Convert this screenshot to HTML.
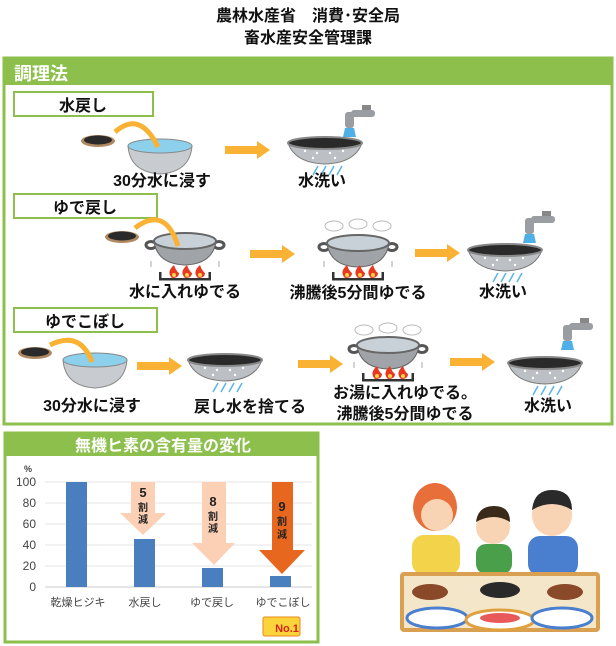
<!DOCTYPE html>
<html><head><meta charset="utf-8"><style>
body{margin:0;background:#fff}
svg{display:block;font-family:"Liberation Sans","Noto Sans CJK JP",sans-serif}
.t{font-weight:bold;font-size:16px;fill:#111;text-anchor:middle}
</style></head><body>
<svg width="616" height="646" viewBox="0 0 616 646">
<defs>
<g id="plate"><ellipse cx="0" cy="0" rx="17" ry="6" fill="#b08860"/><ellipse cx="0" cy="-1" rx="14" ry="4.5" fill="#2a2a2a"/></g>
<g id="bowl"><path d="M-32 0 Q-30 26 0 28 Q30 26 32 0 Z" fill="#c8ccd0" stroke="#888" stroke-width="1"/><ellipse cx="0" cy="0" rx="32" ry="7" fill="#8cd0ec" stroke="#888"/></g>
<g id="col"><path d="M-37 0 Q-30 20 0 21 Q30 20 37 0 Z" fill="#bcc0c4" stroke="#777"/><ellipse cx="0" cy="0" rx="37" ry="6" fill="#2a2a2a" stroke="#888" stroke-width="2"/><g fill="#fff"><circle cx="-20" cy="8" r="1.2"/><circle cx="-8" cy="10" r="1.2"/><circle cx="5" cy="10" r="1.2"/><circle cx="18" cy="8" r="1.2"/><circle cx="-12" cy="15" r="1.2"/><circle cx="10" cy="15" r="1.2"/></g><g stroke="#5ab4e6" stroke-width="1.5"><line x1="-12" y1="32" x2="-7" y2="23"/><line x1="-4" y1="32" x2="1" y2="23"/><line x1="4" y1="32" x2="9" y2="23"/><line x1="12" y1="32" x2="17" y2="23"/></g></g>
<g id="fau"><rect x="-4" y="-10" width="24" height="7" rx="3" fill="#9a9ea2"/><rect x="-10" y="-8" width="9" height="16" rx="3" fill="#9a9ea2"/><rect x="7" y="-15" width="9" height="5" fill="#888"/><path d="M-10 8 L-1 8 L1 17 L-12 17 Z" fill="#4fb0e8"/></g>
<g id="pot"><ellipse cx="-34" cy="0" rx="5" ry="3.5" fill="none" stroke="#555" stroke-width="3"/><ellipse cx="34" cy="0" rx="5" ry="3.5" fill="none" stroke="#555" stroke-width="3"/><path d="M-31 -4 Q-28 19 0 20 Q28 19 31 -4 Z" fill="#a0a4a8" stroke="#666"/><ellipse cx="0" cy="-4" rx="31" ry="8" fill="#c8d0d8" stroke="#666" stroke-width="2"/></g>
<g id="bur"><path d="M-34 -2 V4 M34 -2 V4" stroke="#aaa"/><rect x="-26" y="15" width="52" height="2.5" fill="#333"/><rect x="-26" y="9" width="2.5" height="8" fill="#333"/><rect x="23.5" y="9" width="2.5" height="8" fill="#333"/><g fill="#e83820"><path d="M-13 15 Q-19 9 -11 2 Q-9 8 -6 10 Q-6 15 -13 15Z"/><path d="M0 15 Q-6 9 2 2 Q4 8 7 10 Q7 15 0 15Z"/><path d="M13 15 Q7 9 15 2 Q17 8 20 10 Q20 15 13 15Z"/></g><g fill="#ffd34a"><circle cx="-11" cy="12" r="2"/><circle cx="2" cy="12" r="2"/><circle cx="15" cy="12" r="2"/></g></g>
<g id="arr"><rect x="0" y="-4" width="34" height="8" fill="#f9b233"/><path d="M32 -9 L45 0 L32 9Z" fill="#f9b233"/></g>
<g id="steam" fill="#fff" stroke="#bbb"><ellipse cx="-24" cy="0" rx="9" ry="5"/><ellipse cx="0" cy="-2" rx="9" ry="5"/><ellipse cx="24" cy="0" rx="9" ry="5"/></g>
</defs>

<text x="308" y="21" class="t" font-size="17">農林水産省　消費･安全局</text>
<text x="308" y="43" class="t" font-size="17">畜水産安全管理課</text>

<rect x="4" y="58" width="608" height="366" fill="#fff" stroke="#8cbf4b" stroke-width="3"/>
<rect x="4" y="58" width="608" height="27" fill="#8cbf4b"/>
<text x="14" y="80" font-size="18" font-weight="bold" fill="#fff">調理法</text>

<rect x="14" y="92" width="139" height="24" fill="#fff" stroke="#8cbf4b" stroke-width="2"/>
<text x="83" y="111" class="t" font-size="18">水戻し</text>
<rect x="14" y="194" width="143" height="24" fill="#fff" stroke="#8cbf4b" stroke-width="2"/>
<text x="85" y="213" class="t" font-size="18">ゆで戻し</text>
<rect x="14" y="308" width="143" height="24" fill="#fff" stroke="#8cbf4b" stroke-width="2"/>
<text x="85" y="327" class="t" font-size="18">ゆでこぼし</text>

<!-- row1 -->
<use href="#plate" x="98" y="141"/>
<use href="#bowl" x="160" y="146"/>
<path d="M115 132 Q140 110 158 147" fill="none" stroke="#f9b233" stroke-width="5"/>
<use href="#arr" x="225" y="150"/>
<use href="#col" x="325" y="143"/>
<use href="#fau" x="355" y="120"/>
<text x="162" y="186" class="t">30分水に浸す</text>
<text x="322" y="186" class="t">水洗い</text>

<!-- row2 -->
<use href="#plate" x="122" y="237"/>
<use href="#pot" x="185" y="245"/>
<path d="M135 228 Q165 205 178 246" fill="none" stroke="#f9b233" stroke-width="5"/>
<use href="#bur" x="185" y="263"/>
<use href="#arr" x="250" y="254"/>
<use href="#steam" x="358" y="226"/>
<use href="#pot" x="358" y="247"/>
<use href="#bur" x="358" y="263"/>
<use href="#arr" x="415" y="253"/>
<use href="#col" x="505" y="250"/>
<use href="#fau" x="535" y="226"/>
<text x="185" y="297" class="t">水に入れゆでる</text>
<text x="358" y="298" class="t">沸騰後5分間ゆでる</text>
<text x="503" y="297" class="t">水洗い</text>

<!-- row3 -->
<use href="#plate" x="35" y="353"/>
<use href="#bowl" x="95" y="360"/>
<path d="M50 345 Q80 330 92 362" fill="none" stroke="#f9b233" stroke-width="5"/>
<use href="#arr" x="137" y="366"/>
<use href="#col" x="225" y="360"/>
<use href="#arr" x="298" y="364"/>
<use href="#steam" x="388" y="330"/>
<use href="#pot" x="388" y="349"/>
<use href="#bur" x="388" y="364"/>
<use href="#arr" x="450" y="362"/>
<use href="#col" x="545" y="363"/>
<use href="#fau" x="573" y="333"/>
<text x="92" y="411" class="t">30分水に浸す</text>
<text x="250" y="412" class="t">戻し水を捨てる</text>
<text x="405" y="398" class="t">お湯に入れゆでる。</text>
<text x="405" y="419" class="t">沸騰後5分間ゆでる</text>
<text x="548" y="411" class="t">水洗い</text>

<!-- chart -->
<rect x="5" y="433" width="313" height="209" fill="#fff" stroke="#8cbf4b" stroke-width="3"/>
<rect x="5" y="433" width="313" height="23" fill="#8cbf4b"/>
<text x="163" y="451" text-anchor="middle" font-size="16" font-weight="bold" fill="#fff">無機ヒ素の含有量の変化</text>
<g stroke="#e4e4e4"><line x1="45" y1="482" x2="312" y2="482"/><line x1="45" y1="503" x2="312" y2="503"/><line x1="45" y1="524" x2="312" y2="524"/><line x1="45" y1="545" x2="312" y2="545"/><line x1="45" y1="566" x2="312" y2="566"/></g>
<line x1="45" y1="587" x2="312" y2="587" stroke="#ccc"/>
<g font-size="12" fill="#444" text-anchor="end"><text x="32" y="472" font-size="9" font-weight="bold">%</text><text x="36" y="486">100</text><text x="36" y="507">80</text><text x="36" y="528">60</text><text x="36" y="549">40</text><text x="36" y="570">20</text><text x="36" y="591">0</text></g>
<g fill="#4a7fbf"><rect x="66" y="482" width="21" height="105"/><rect x="134" y="539" width="21" height="48"/><rect x="202" y="568" width="21" height="19"/><rect x="270" y="576" width="21" height="11"/></g>
<path d="M131 482 H155 V513 H166 L143 535 L120 513 H131Z" fill="#fbd0b4"/>
<path d="M202 482 H226 V543 H235 L214 565 L192 543 H202Z" fill="#fbd0b4"/>
<path d="M272 482 H293 V550 H305 L282 574 L259 550 H272Z" fill="#e8671e"/>
<g font-weight="bold" text-anchor="middle" fill="#222"><text x="143" y="497" font-size="13">5</text><text x="143" y="511" font-size="10">割</text><text x="143" y="523" font-size="10">減</text>
<text x="213" y="506" font-size="13">8</text><text x="213" y="520" font-size="10">割</text><text x="213" y="532" font-size="10">減</text>
<text x="282" y="511" font-size="13">9</text><text x="282" y="525" font-size="10">割</text><text x="282" y="538" font-size="10">減</text></g>
<g font-size="11" fill="#444" text-anchor="middle"><text x="78" y="606">乾燥ヒジキ</text><text x="145" y="606">水戻し</text><text x="212" y="606">ゆで戻し</text><text x="283" y="606">ゆでこぼし</text></g>
<rect x="263" y="617" width="37" height="19" rx="2" fill="#fbd33a" stroke="#e88a1a"/>
<text x="287" y="632" text-anchor="middle" font-size="11" font-weight="bold" fill="#d2261e">No.1</text>

<!-- family illustration -->
<g>
<ellipse cx="435" cy="507" rx="22" ry="24" fill="#e86f3a"/>
<ellipse cx="437" cy="515" rx="16" ry="16" fill="#f8d4b4"/>
<rect x="412" y="535" width="48" height="40" rx="12" fill="#f2d34a"/>
<ellipse cx="493" cy="527" rx="17" ry="17" fill="#f8d4b4"/>
<path d="M476 522 Q478 506 494 506 Q510 506 510 522 Q494 512 476 522Z" fill="#3a2a1a"/>
<rect x="476" y="544" width="36" height="30" rx="10" fill="#4aa04a"/>
<ellipse cx="552" cy="515" rx="20" ry="21" fill="#f8d4b4"/>
<path d="M532 510 Q534 490 552 490 Q572 490 572 510 Q552 498 532 510Z" fill="#2a2a2a"/>
<rect x="528" y="536" width="50" height="40" rx="12" fill="#4a7fd0"/>
<rect x="400" y="572" width="200" height="60" rx="4" fill="#d8a050"/>
<rect x="404" y="576" width="192" height="52" fill="#f4e6c8"/>
<ellipse cx="430" cy="592" rx="18" ry="8" fill="#8a4a2a"/>
<ellipse cx="500" cy="590" rx="20" ry="8" fill="#2a2a2a"/>
<ellipse cx="565" cy="592" rx="18" ry="8" fill="#8a4a2a"/>
<ellipse cx="437" cy="618" rx="30" ry="10" fill="#fff" stroke="#4a7fd0" stroke-width="3"/>
<ellipse cx="500" cy="620" rx="34" ry="10" fill="#fff" stroke="#e0a040" stroke-width="3"/>
<ellipse cx="562" cy="618" rx="30" ry="10" fill="#fff" stroke="#4a7fd0" stroke-width="3"/>
<ellipse cx="500" cy="618" rx="20" ry="5" fill="#e85a5a"/>
</g>
</svg>
</body></html>
